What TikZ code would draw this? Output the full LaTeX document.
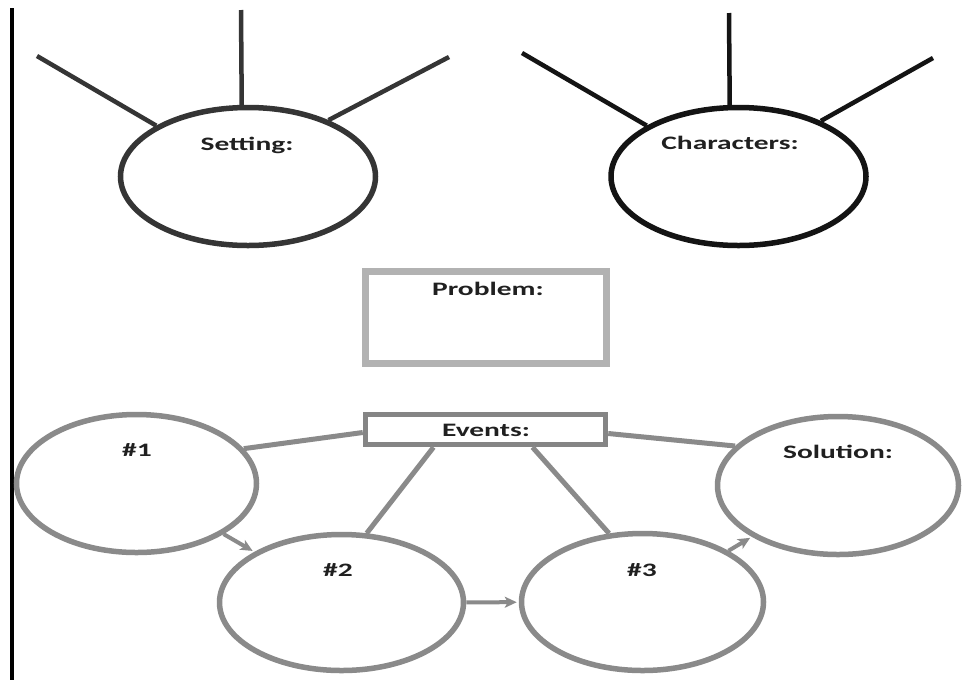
\documentclass[tikz,border=0pt]{standalone}
\usepackage{fontspec}
\usepackage{graphicx}
\setmainfont{Carlito}
\usetikzlibrary{shapes.geometric,arrows.meta,calc}

\definecolor{setgray}{HTML}{353535}
\definecolor{chargray}{HTML}{141414}
\definecolor{probgray}{HTML}{B2B2B2}
\definecolor{evbox}{HTML}{858585}
\definecolor{evgray}{HTML}{8A8A8A}
\definecolor{txt}{HTML}{202020}

% wide bold caption, stretched horizontally
\newcommand{\wide}[1]{\scalebox{1.55}[1]{#1}}

\begin{document}
\begin{tikzpicture}[x=1pt,y=-1pt,
  oval/.style={ellipse,inner sep=0pt,line width=5.5pt,fill=white},
  lbl/.style={font=\fontsize{19}{21}\selectfont\bfseries,text=txt,inner sep=0pt},
  spoke/.style={line width=4.5pt},
  link/.style={line width=5pt,draw=evgray},
  flow/.style={line width=4pt,draw=evgray,shorten >=2pt,-{Stealth[length=12pt,width=11pt,inset=3pt]}},
]
\useasboundingbox[fill=white] (0,0) rectangle (963,681);

% margin rule
\coordinate (mtop) at (12,8);
\coordinate (mbot) at (12,680);
\draw[line width=4pt,black] (mtop) -- (mbot);

% Setting
\node[oval,draw=setgray,minimum width=255pt,minimum height=138pt] (set) at (248,176.5) {};
\node[lbl] (setl) at (247,145) {\wide{Setting:}};
\coordinate (s1) at (37,56);
\coordinate (s2) at (241,10);
\coordinate (s3) at (449,57);
\draw[spoke,setgray] (s1) -- (set.151);
\draw[spoke,setgray] (s2) -- (set.95);
\draw[spoke,setgray] (s3) -- (set.35.5);

% Characters
\node[oval,draw=chargray,minimum width=255pt,minimum height=138pt] (chr) at (738.5,176.5) {};
\node[lbl] (chrl) at (730,143) {\wide{Characters:}};
\coordinate (c1) at (522,53);
\coordinate (c2) at (729,13);
\coordinate (c3) at (933,58);
\draw[spoke,chargray] (c1) -- (chr.151.7);
\draw[spoke,chargray] (c2) -- (chr.97.6);
\draw[spoke,chargray] (c3) -- (chr.34.4);

% Problem
\node[draw=probgray,line width=7pt,minimum width=241pt,minimum height=92pt,inner sep=0pt] (prob) at (486,317.5) {};
\node[lbl] (probl) at (488,289) {\wide{Problem:}};

% Events
\node[draw=evbox,line width=5.5pt,minimum width=240pt,minimum height=30pt,inner sep=0pt,fill=white] (ev) at (485.5,429.5) {};
\node[lbl] (evl) at (486,430) {\wide{Events:}};

\node[oval,draw=evgray,minimum width=240pt,minimum height=138pt] (e1) at (136.5,483.5) {};
\node[oval,draw=evgray,minimum width=244pt,minimum height=136pt] (e2) at (341.5,602.5) {};
\node[oval,draw=evgray,minimum width=242pt,minimum height=137pt] (e3) at (642.5,602) {};
\node[oval,draw=evgray,minimum width=241pt,minimum height=138pt] (sol) at (838,485.5) {};

\node[lbl] (e1l) at (137,450) {\wide{\#1}};
\node[lbl] (e2l) at (338,570) {\wide{\#2}};
\node[lbl] (e3l) at (642,570) {\wide{\#3}};
\node[lbl] (soll) at (838,452) {\wide{Solution:}};

% links from the Events box
\draw[link] ([yshift=-3pt]ev.west) -- (e1.18);
\draw[link] ([xshift=-52pt]ev.south) -- (e2.70);
\draw[link] ([xshift=47pt]ev.south) -- (e3.116.6);
\draw[link] ([yshift=-4pt]ev.east) -- (sol.159);

% sequence arrows
\draw[flow] (e1) -- (e2);
\draw[flow] (e2) -- (e3);
\draw[flow] (e3) -- (sol);
\end{tikzpicture}
\end{document}
